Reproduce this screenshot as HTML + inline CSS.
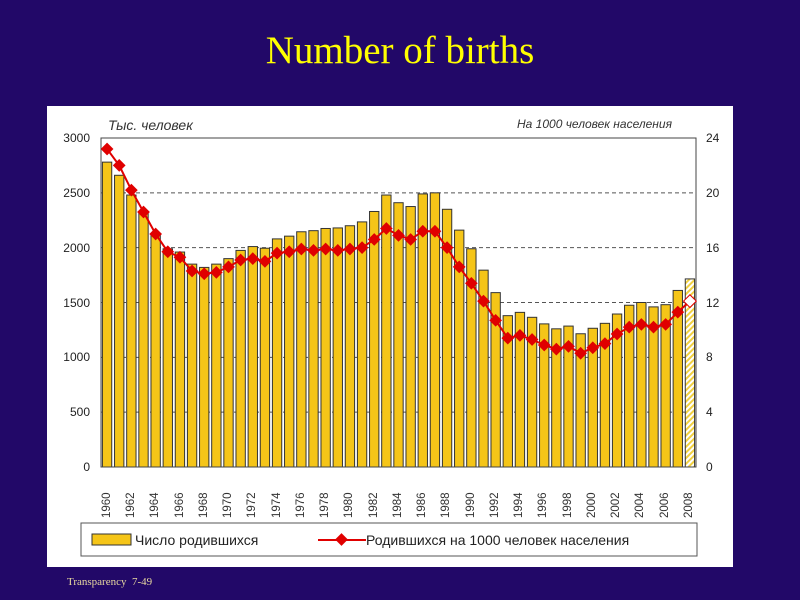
<!DOCTYPE html>
<html><head><meta charset="utf-8">
<style>
html,body{margin:0;padding:0;}
body{width:800px;height:600px;background:#220868;position:relative;overflow:hidden;}
.title{position:absolute;left:0;width:800px;top:28px;text-align:center;font-family:"Liberation Serif",serif;font-size:39px;color:#ffff00;}
.foot{position:absolute;left:67px;top:576px;font-family:"Liberation Serif",serif;font-size:11px;color:#e8d8a0;}
svg{position:absolute;left:0;top:0;}
</style></head><body>
<div class="title">Number of births</div>
<svg width="800" height="600" xmlns="http://www.w3.org/2000/svg" font-family="Liberation Sans, DejaVu Sans, sans-serif">
<defs>
<pattern id="hatch" width="4" height="4" patternUnits="userSpaceOnUse" patternTransform="rotate(45)">
<rect width="4" height="4" fill="#fff"/><rect width="2" height="4" fill="#f0d040"/>
</pattern>
</defs>
<rect x="47" y="106" width="686" height="461" fill="#fff"/>
<g id="grid" stroke="#555" stroke-width="1" stroke-dasharray="4,3"></g>
<g id="bars"></g>
<rect x="101" y="138" width="595" height="329" fill="none" stroke="#444" stroke-width="1"/>
<polyline id="line" fill="none" stroke="#e00000" stroke-width="2"/>
<g id="marks"></g>
<g font-size="12" fill="#222" text-anchor="end">
<text x="90" y="142">3000</text><text x="90" y="197">2500</text><text x="90" y="252">2000</text>
<text x="90" y="307">1500</text><text x="90" y="361">1000</text><text x="90" y="416">500</text><text x="90" y="471">0</text>
</g>
<g font-size="12" fill="#222" text-anchor="start">
<text x="706" y="142">24</text><text x="706" y="197">20</text><text x="706" y="252">16</text>
<text x="706" y="307">12</text><text x="706" y="361">8</text><text x="706" y="416">4</text><text x="706" y="471">0</text>
</g>
<text x="108" y="130" font-size="14" font-style="italic" fill="#333">Тыс. человек</text>
<text x="672" y="128" font-size="12" font-style="italic" fill="#333" text-anchor="end">На 1000 человек населения</text>
<rect x="81" y="523" width="616" height="33" fill="#fff" stroke="#555"/>
<rect x="92" y="534" width="39" height="11" fill="#f5c518" stroke="#333"/>
<text x="135" y="545" font-size="14" fill="#222">Число родившихся</text>
<line x1="318" y1="540" x2="366" y2="540" stroke="#e00000" stroke-width="2"/>
<rect x="337" y="535" width="9" height="9" fill="#e00000" transform="rotate(45 341.5 539.5)"/>
<text x="366" y="545" font-size="14" fill="#222">Родившихся на 1000 человек населения</text>
<g font-size="11.5" fill="#333">
<text transform="translate(110,518) rotate(-90)">1960</text>
<text transform="translate(134,518) rotate(-90)">1962</text>
<text transform="translate(158,518) rotate(-90)">1964</text>
<text transform="translate(183,518) rotate(-90)">1966</text>
<text transform="translate(207,518) rotate(-90)">1968</text>
<text transform="translate(231,518) rotate(-90)">1970</text>
<text transform="translate(255,518) rotate(-90)">1972</text>
<text transform="translate(280,518) rotate(-90)">1974</text>
<text transform="translate(304,518) rotate(-90)">1976</text>
<text transform="translate(328,518) rotate(-90)">1978</text>
<text transform="translate(352,518) rotate(-90)">1980</text>
<text transform="translate(377,518) rotate(-90)">1982</text>
<text transform="translate(401,518) rotate(-90)">1984</text>
<text transform="translate(425,518) rotate(-90)">1986</text>
<text transform="translate(449,518) rotate(-90)">1988</text>
<text transform="translate(474,518) rotate(-90)">1990</text>
<text transform="translate(498,518) rotate(-90)">1992</text>
<text transform="translate(522,518) rotate(-90)">1994</text>
<text transform="translate(546,518) rotate(-90)">1996</text>
<text transform="translate(571,518) rotate(-90)">1998</text>
<text transform="translate(595,518) rotate(-90)">2000</text>
<text transform="translate(619,518) rotate(-90)">2002</text>
<text transform="translate(643,518) rotate(-90)">2004</text>
<text transform="translate(668,518) rotate(-90)">2006</text>
<text transform="translate(692,518) rotate(-90)">2008</text>
</g>
</svg>
<div class="foot">Transparency &nbsp;7-49</div>
<script>
var b=[2780,2660,2480,2330,2120,1990,1960,1850,1820,1850,1900,1975,2010,1995,2080,2105,2145,2155,2175,2180,2200,2235,2330,2480,2410,2375,2490,2500,2350,2160,1990,1795,1590,1380,1410,1365,1305,1260,1285,1215,1265,1310,1395,1475,1500,1460,1480,1610,1715];
var r=[23.2,22,20.2,18.6,17.0,15.7,15.3,14.3,14.1,14.2,14.6,15.1,15.2,15.0,15.6,15.7,15.9,15.8,15.9,15.8,15.9,16.0,16.6,17.4,16.9,16.6,17.2,17.2,16.0,14.6,13.4,12.1,10.7,9.4,9.6,9.3,8.9,8.6,8.8,8.3,8.7,9.0,9.7,10.2,10.4,10.2,10.4,11.3,12.1];
var NS="http://www.w3.org/2000/svg",L=101,W=595/49,B=467,H=329;
function el(t,a,p){var e=document.createElementNS(NS,t);for(var k in a)e.setAttribute(k,a[k]);document.getElementById(p).appendChild(e);return e;}
[500,1000,1500,2000,2500].forEach(function(v){var y=B-v/3000*H;el('line',{x1:L,x2:L+595,y1:y,y2:y},'grid');});
var pts=[];
b.forEach(function(v,i){var x=L+W*i+1.4,h=v/3000*H;el('rect',{x:x,y:B-h,width:W-2.8,height:h,fill:i==48?'url(#hatch)':'#f5c518',stroke:'#333','stroke-width':1},'bars');});
r.forEach(function(v,i){var cx=L+W*(i+0.5),cy=B-v/24*H;pts.push(cx+','+cy);
el('rect',{x:cx-4.5,y:cy-4.5,width:9,height:9,fill:i==48?'#fff':'#e00000',stroke:i==48?'#e00000':'none',transform:'rotate(45 '+cx+' '+cy+')'},'marks');});
document.getElementById('line').setAttribute('points',pts.join(' '));
</script>
</body></html>
